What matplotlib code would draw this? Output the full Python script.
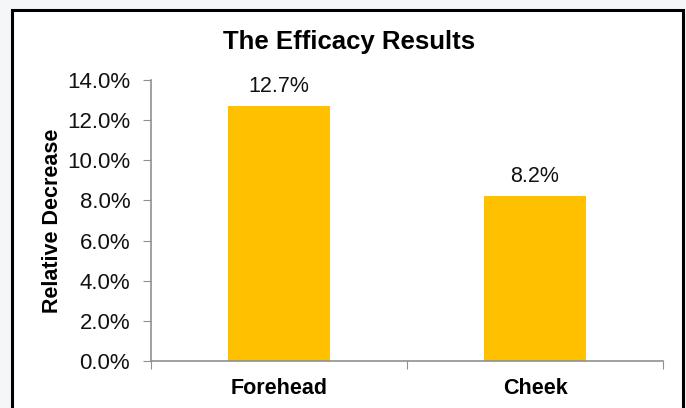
import numpy as np
import matplotlib
matplotlib.use("Agg")
import matplotlib.pyplot as plt
from matplotlib.patches import Rectangle
from matplotlib.ticker import FuncFormatter

# chart data
categories = ["Forehead", "Cheek"]
decrease = [12.7, 8.2]  # percent
yticks = [0, 2, 4, 6, 8, 10, 12, 14]

plt.rcParams['font.family'] = ['Liberation Sans', 'DejaVu Sans']

fig = plt.figure(figsize=(6.86, 4.08), dpi=100, facecolor='#f4f6f7')

# white chart box with black border (behind the axes)
box = Rectangle((12 / 686, -0.05), (683 - 12) / 686, 1 - 10 / 408 + 0.05,
                transform=fig.transFigure, facecolor='white',
                edgecolor='black', linewidth=2.2, zorder=-10)
fig.patches.append(box)

ax = fig.add_axes([151 / 686, 1 - 361 / 408, (663 - 151) / 686, (361 - 80) / 408])
ax.set_facecolor('white')

x = np.arange(len(categories))
bars = ax.bar(x, decrease, width=0.4, color='#FFC000', zorder=2)

for xi, v in zip(x, decrease):
    ax.annotate(f"{v:.1f}%", (xi, v), xytext=(0, 6.5), textcoords='offset points',
                ha='center', va='bottom', fontsize=15.5, color='#111111')

ax.set_xlim(-0.5, 1.5)
ax.set_ylim(0, 14)
ax.set_yticks(yticks)
ax.yaxis.set_major_formatter(FuncFormatter(lambda v, p: f"{v:.1f}%"))
ax.set_xticks([-0.5, 0.5, 1.5])
ax.set_xticklabels([])
ax.set_xticks(x, minor=True)
ax.set_xticklabels(categories, minor=True, fontsize=15.5, fontweight='bold')
ax.tick_params(axis='x', which='minor', length=0, pad=12)
ax.tick_params(axis='x', which='major', length=6, color='#909090', direction='out')
ax.tick_params(axis='y', length=6, color='#909090', direction='out',
               labelsize=16, pad=9, labelcolor='#111111')

for s in ['top', 'right']:
    ax.spines[s].set_visible(False)
for s in ['left', 'bottom']:
    ax.spines[s].set_color('#909090')
    ax.spines[s].set_linewidth(1.2)

ax.set_ylabel("Relative Decrease", fontsize=15.5, fontweight='bold')
ax.yaxis.set_label_coords(-0.172, 0.5)
fig.text(349 / 686, 1 - 42 / 408, "The Efficacy Results", ha='center', va='center',
         fontsize=18.5, fontweight='bold')

fig.savefig("out.png", dpi=100, facecolor=fig.get_facecolor())
